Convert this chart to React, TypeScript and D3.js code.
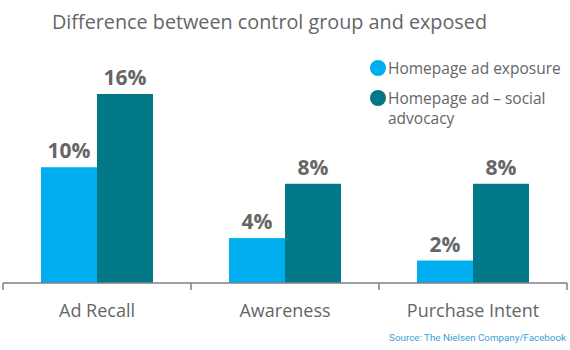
import React from "react";
import * as d3 from "d3";

const categories = ["Ad Recall", "Awareness", "Purchase Intent"];
const seriesNames = ["Homepage ad exposure", "Homepage ad – social advocacy"];
const exposureValues = [9.8, 3.8, 1.9];
const advocacyValues = [16, 8.4, 8.4];
const exposureLabels = ["10%", "4%", "2%"];
const advocacyLabels = ["16%", "8%", "8%"];
const colors = ["#00adef", "#007887"];

const W = 570;
const H = 350;
const axisY = 283;
const axisLeft = 3;
const axisRight = 567;
const FONT = "'Open Sans', 'Noto Sans', sans-serif";
const GRAY = "#666666";

export default function App() {
  const x = d3.scaleBand<string>().domain(categories).range([axisLeft, axisRight]).paddingInner(0).paddingOuter(0);
  const y = d3.scaleLinear().domain([0, 16]).range([axisY, 94]);
  const barW = 56;
  const series = [
    { values: exposureValues, labels: exposureLabels, color: colors[0], offset: -barW },
    { values: advocacyValues, labels: advocacyLabels, color: colors[1], offset: 0 },
  ];
  const tickXs = [axisLeft, ...categories.map((c) => (x(c) as number) + x.bandwidth())];

  return (
    <svg width={W} height={H} style={{ position: "absolute", left: 0, top: 0, background: "#fff" }} fontFamily={FONT}>
      <text x={52} y={29} fontSize={20} fill={GRAY} textLength={435} lengthAdjust="spacingAndGlyphs">
        Difference between control group and exposed
      </text>

      {series.map((s, si) =>
        categories.map((c, i) => {
          const cx = (x(c) as number) + x.bandwidth() / 2;
          const bx = cx + s.offset;
          const top = y(s.values[i]);
          return (
            <g key={`${si}-${i}`}>
              <rect x={bx} y={top} width={barW} height={axisY - top} fill={s.color} />
              <text x={bx + barW / 2} y={top - 9} textAnchor="middle" fontSize={21} fontWeight="bold" fill={GRAY}>
                {s.labels[i]}
              </text>
            </g>
          );
        })
      )}

      <line x1={axisLeft} x2={axisRight} y1={axisY} y2={axisY} stroke="#7f7f7f" strokeWidth={1.5} />
      {tickXs.map((tx, i) => (
        <line key={i} x1={tx} x2={tx} y1={axisY} y2={axisY + 7} stroke="#7f7f7f" strokeWidth={1.5} />
      ))}
      {categories.map((c) => (
        <text key={c} x={(x(c) as number) + x.bandwidth() / 2} y={317} textAnchor="middle" fontSize={18} fill={GRAY}>
          {c}
        </text>
      ))}

      <circle cx={378} cy={68} r={8} fill={colors[0]} />
      <text x={388} y={74} fontSize={15.5} fill={GRAY}>{seriesNames[0]}</text>
      <circle cx={378} cy={98} r={8} fill={colors[1]} />
      <text x={388} y={104} fontSize={15.5} fill={GRAY}>
        <tspan x={388}>Homepage ad – social</tspan>
        <tspan x={388} dy={20}>advocacy</tspan>
      </text>

      <text x={566} y={341} textAnchor="end" fontSize={9.8} fill="#3a9fd6" fontFamily="'Roboto', sans-serif">
        Source: The Nielsen Company/Facebook
      </text>
    </svg>
  );
}
